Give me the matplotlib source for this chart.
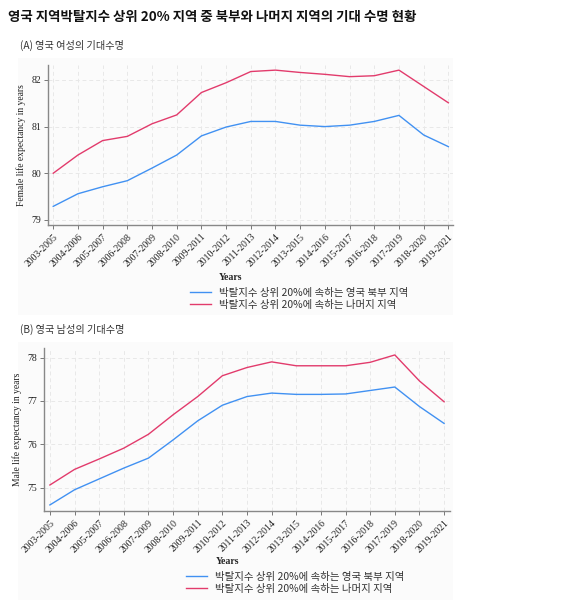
import matplotlib
matplotlib.use('Agg')
import matplotlib.pyplot as plt
from matplotlib.patches import Rectangle

plt.rcParams['font.family'] = ['Noto Sans CJK KR', 'DejaVu Sans']

periods = ['2003-2005', '2004-2006', '2005-2007', '2006-2008', '2007-2009', '2008-2010',
           '2009-2011', '2010-2012', '2011-2013', '2012-2014', '2013-2015', '2014-2016',
           '2015-2017', '2016-2018', '2017-2019', '2018-2020', '2019-2021']

female_north = [79.29, 79.56, 79.71, 79.84, 80.11, 80.39, 80.80, 80.99, 81.11, 81.11,
                81.03, 81.00, 81.03, 81.11, 81.24, 80.82, 80.57]
female_rest = [80.00, 80.39, 80.70, 80.79, 81.06, 81.25, 81.73, 81.94, 82.18, 82.21,
               82.16, 82.12, 82.07, 82.09, 82.21, 81.86, 81.51]

male_north = [74.60, 74.95, 75.20, 75.45, 75.68, 76.10, 76.54, 76.90, 77.10, 77.18,
              77.15, 77.15, 77.16, 77.24, 77.32, 76.87, 76.48]
male_rest = [75.06, 75.42, 75.66, 75.91, 76.23, 76.68, 77.10, 77.58, 77.77, 77.90,
             77.81, 77.81, 77.81, 77.89, 78.06, 77.46, 76.98]

title = '영국 지역박탈지수 상위 20% 지역 중 북부와 나머지 지역의 기대 수명 현황'
sub_a = '(A) 영국 여성의 기대수명'
sub_b = '(B) 영국 남성의 기대수명'
lab_north = '박탈지수 상위 20%에 속하는 영국 북부 지역'
lab_rest = '박탈지수 상위 20%에 속하는 나머지 지역'

blue = '#4191f2'
red = '#e23b6c'
serif = 'Liberation Serif'

fig = plt.figure(figsize=(5.67, 6.06), dpi=100)
W, H = 567.0, 606.0

# light panel backgrounds
for y0, h in [(58, 257), (342, 258)]:
    fig.patches.append(Rectangle((18 / W, 1 - (y0 + h) / H), 435 / W, h / H,
                                 transform=fig.transFigure, facecolor='#fbfbfb',
                                 edgecolor='none', zorder=-5))


def panel(rect, north, rest, ylim, yticks, ylabel, xlim, leg_xy, xlab_xy):
    ax = fig.add_axes(rect)
    ax.set_facecolor('none')
    x = range(len(periods))
    ax.plot(x, north, color=blue, lw=1.0, label=lab_north)
    ax.plot(x, rest, color=red, lw=1.0, label=lab_rest)
    ax.set_xlim(*xlim)
    ax.set_ylim(*ylim)
    ax.set_yticks(yticks)
    ax.set_xticks(list(x))
    ax.set_xticklabels(periods, rotation=45, ha='right', va='top',
                       rotation_mode='anchor', family=serif, fontsize=7.0)
    ax.set_yticklabels([str(t) for t in yticks], family=serif, fontsize=7.0)
    ax.grid(True, color='#e8e8e8', ls=(0, (4, 3)), lw=0.7)
    for s in ['top', 'right']:
        ax.spines[s].set_visible(False)
    for s in ['left', 'bottom']:
        ax.spines[s].set_color('#888888')
        ax.spines[s].set_linewidth(1.0)
    ax.tick_params(length=3, width=0.7, color='#777777', pad=2, labelcolor='#222222')
    ax.set_ylabel(ylabel, family=serif, fontsize=6.9, labelpad=4, color='#222222')
    ax.set_xlabel('Years', family=serif, fontsize=7.0, fontweight='bold',
                  color='#222222', va='center')
    ax.xaxis.set_label_coords(*xlab_xy)
    ax.legend(loc='upper left', bbox_to_anchor=leg_xy, bbox_transform=fig.transFigure,
              frameon=False, fontsize=7.5, handlelength=2.0, handletextpad=0.8,
              labelspacing=0.15, borderaxespad=0, borderpad=0, labelcolor='#333333')
    return ax


panel([48.3 / W, 1 - 225 / H, 405 / W, 160 / H], female_north, female_rest,
      (78.89, 82.32), [79, 80, 81, 82], 'Female life expectancy in years',
      (-0.2, 16.2), (190 / W, 1 - 288 / H), (0.451, -0.325))
panel([44 / W, 1 - 511 / H, 406 / W, 163 / H], male_north, male_rest,
      (74.46, 78.22), [75, 76, 77, 78], 'Male life expectancy in years',
      (-0.24, 16.24), (186 / W, 1 - 572 / H), (0.453, -0.31))

fig.text(8 / W, 1 - 17 / H, title, fontsize=9.7, fontweight='bold', va='center',
         ha='left', color='#111111')
fig.text(20 / W, 1 - 45 / H, sub_a, fontsize=7.3, va='center', ha='left', color='#333333')
fig.text(20 / W, 1 - 329 / H, sub_b, fontsize=7.3, va='center', ha='left', color='#333333')

fig.savefig('out.png', dpi=100)
